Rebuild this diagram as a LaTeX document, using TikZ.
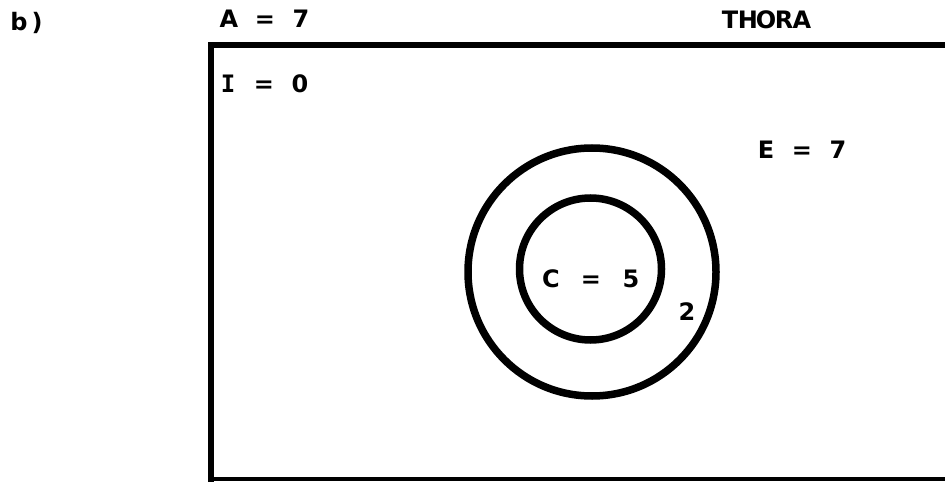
\documentclass[tikz,border=0pt]{standalone}
\usepackage{fontspec}
\setmainfont{DejaVu Sans}
\newfontfamily\monoI{DejaVu Sans Mono}
\newcommand\cc[1]{\makebox[18pt]{#1}}
\newcommand\cw[1]{\makebox[20pt]{#1}}
\begin{document}
\begin{tikzpicture}[x=1pt,y=-1pt,
  lbl/.style={inner sep=0pt, anchor=base, font=\bfseries\fontsize{24}{26}\selectfont},
  ring/.style={circle, draw, line width=7.5pt, inner sep=0pt},
  frameline/.style={line width=6pt, line cap=rect}]
\useasboundingbox (0,0) rectangle (945,484);
\clip (0,0) rectangle (945,484);
% frame
\coordinate (tl) at (211,45);
\coordinate (tr) at (950,45);
\coordinate (bl) at (211,479);
\coordinate (br) at (950,479);
\draw[frameline] (tr) -- (tl) -- (bl);
\draw[line width=4pt] (bl) -- (br);
% circles
\node[ring, minimum size=248pt] (outer) at (592,272) {};
\node[ring, minimum size=142pt] (inner) at (590.5,269) {};
% labels
\node[lbl] (b) at (28,31) {\cc{b}\cc{)}};
\node[lbl] (A) at (265,28) {\cc{A}\cc{}\cc{=}\cc{}\cc{7}};
\node[lbl] (thora) at (766,29) {\cc{T}\cc{H}\cc{O}\cc{R}\cc{A}};
\node[lbl] (I) at (264,93) {\cc{\monoI I}\cc{}\cc{=}\cc{}\cc{0}};
\node[lbl] (E) at (802,158) {\cc{E}\cc{}\cc{=}\cc{}\cc{7}};
\node[lbl] (C) at (591,287) {\cw{C}\cw{}\cw{=}\cw{}\cw{5}};
\node[lbl] (two) at (687,320) {2};
\end{tikzpicture}
\end{document}
